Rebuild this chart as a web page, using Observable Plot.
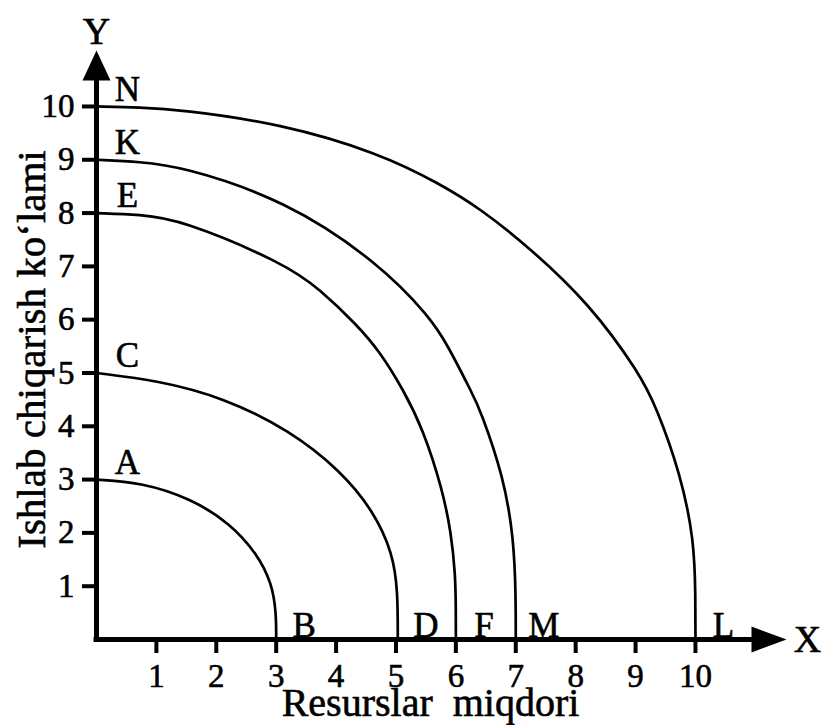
<!DOCTYPE html>
<html><head><meta charset="utf-8">
<script src="https://cdn.jsdelivr.net/npm/d3@7"></script>
<script src="https://cdn.jsdelivr.net/npm/@observablehq/plot@0.6"></script>
<style>body{margin:0;background:#fff}</style>
</head><body><div id="chart"></div>
<script>
// Curves (production possibility frontiers)
const curveNames = ["AB", "CD", "EF", "KM", "NL"];
const startLabels = ["A", "C", "E", "K", "N"];
const endLabels = ["B", "D", "F", "M", "L"];
const yIntercepts = [3, 5, 8, 9, 10];
const xIntercepts = [3, 5.03, 6, 7, 10];

const curveAB = [[0,3],[0.73,2.95],[1.57,2.65],[2.23,2.18],[2.68,1.61],[2.93,1.05],[3.0,0.5],[3.0,0]];
const curveCD = [[0,5],[1.02,4.86],[2.12,4.54],[3.23,3.92],[4.07,3.17],[4.62,2.42],[4.95,1.61],[5.03,0.9],[5.03,0]];
const curveEF = [[0,8],[0.73,7.97],[1.4,7.88],[3.15,7.05],[3.73,6.57],[4.35,5.9],[4.73,5.4],[5.12,4.69],[5.45,3.95],[5.78,2.8],[5.92,2.0],[5.99,1.24],[6.0,0.6],[6.0,0]];
const curveKM = [[0,9],[0.73,8.96],[1.4,8.88],[3.15,8.25],[4.73,7.05],[5.57,6.04],[5.85,5.55],[6.28,4.6],[6.4,4.33],[6.8,3.05],[6.97,1.86],[7.0,0.8],[7.0,0]];
const curveNL = [[0,10],[0.73,9.98],[1.4,9.94],[3.07,9.68],[4.73,9.12],[5.73,8.55],[6.4,8.09],[7.23,7.35],[8.23,6.3],[9.07,4.99],[9.35,4.35],[9.75,3.11],[9.98,1.86],[10.0,0.8],[10.0,0]];
const curves = [curveAB, curveCD, curveEF, curveKM, curveNL];

const xTicks = [1, 2, 3, 4, 5, 6, 7, 8, 9, 10];
const yTicks = [1, 2, 3, 4, 5, 6, 7, 8, 9, 10];
const xTitle = "Resurslar  miqdori";
const yTitle = "Ishlab chiqarish koʻlami";
const axisNames = ["X", "Y"];

const rows = curves.flatMap((pts, i) => pts.map(([x, y]) => ({curve: curveNames[i], x, y})));

const triangle = {
  draw(context, l, r) {
    context.moveTo(-r, 0);
    context.lineTo(0, -l);
    context.lineTo(r, 0);
    context.closePath();
  }
};

const xMax = 11.52, yMax = 11.05;
const font = "Liberation Serif, Times New Roman, serif";
const bold = {stroke: "black", strokeWidth: 0.6, fill: "black"};

const chart = Plot.plot({
  width: 822,
  height: 725,
  marginLeft: 96,
  marginRight: 36,
  marginTop: 50,
  marginBottom: 86,
  style: {fontFamily: font, background: "white", color: "black"},
  x: {domain: [0, xMax]},
  y: {domain: [0, yMax]},
  marks: [
    Plot.line(rows, {x: "x", y: "y", z: "curve", curve: "basis", stroke: "black", strokeWidth: 2.7, strokeLinejoin: "round"}),
    Plot.ruleY([0], {x1: 0, x2: 11.0, stroke: "black", strokeWidth: 5, strokeLinecap: "square"}),
    Plot.ruleX([0], {y1: 0, y2: 10.6, stroke: "black", strokeWidth: 5, strokeLinecap: "square"}),
    Plot.vector([0], {x: xMax, y: 0, rotate: 90, length: 35, r: 13, anchor: "end", shape: triangle, fill: "black", stroke: "none"}),
    Plot.vector([0], {x: 0, y: yMax, rotate: 0, length: 30, r: 14, anchor: "end", shape: triangle, fill: "black", stroke: "none"}),
    Plot.axisX(xTicks, {anchor: "bottom", tickSize: 14, tickPadding: 10, strokeWidth: 4, fontSize: 33, textStroke: "black", textStrokeWidth: 0.6, tickFormat: d => String(d), label: null}),
    Plot.axisY(yTicks, {anchor: "left", tickSize: 14, tickPadding: 8, strokeWidth: 4, fontSize: 33, textStroke: "black", textStrokeWidth: 0.6, tickFormat: d => String(d), label: null}),
    Plot.text(startLabels, {x: 0, y: (d, i) => yIntercepts[i], text: d => d, dx: 31, dy: -17, fontSize: 35, ...bold}),
    Plot.text(endLabels, {x: (d, i) => xIntercepts[i], y: 0, text: d => d, dx: 28, dy: -14, fontSize: 35, ...bold}),
    Plot.text([axisNames[0]], {x: xMax, y: 0, text: d => d, dx: 21, fontSize: 38, ...bold}),
    Plot.text([axisNames[1]], {x: 0, y: yMax, text: d => d, dy: -19, fontSize: 38, ...bold}),
    Plot.text([xTitle], {frameAnchor: "bottom", textAnchor: "middle", lineAnchor: "middle", text: d => d, dx: -11, dy: 64, fontSize: 40, ...bold}),
    Plot.text([yTitle], {frameAnchor: "left", textAnchor: "middle", lineAnchor: "middle", text: d => d, rotate: -90, dx: -65, dy: 4.5, fontSize: 41, ...bold})
  ]
});
document.getElementById("chart").appendChild(chart);
</script>
</body></html>
